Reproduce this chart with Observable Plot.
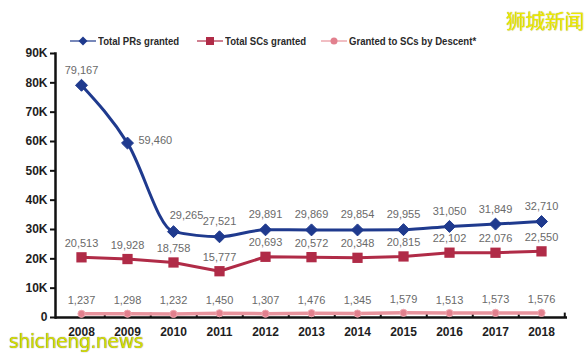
<!DOCTYPE html>
<html>
<head>
<meta charset="utf-8">
<script src="https://cdn.jsdelivr.net/npm/d3@7"></script>
<script src="https://cdn.jsdelivr.net/npm/@observablehq/plot@0.6"></script>
<style>
  html, body { margin:0; padding:0; background:#fff; }
  #wrap { position:relative; width:588px; height:357px; overflow:hidden; background:#fff; }
  #chart { position:absolute; left:0; top:0; }
  .leg { position:absolute; top:33px; height:16px; display:flex; align-items:center;
         font-family:"Liberation Sans",Arial,sans-serif;
         font-weight:bold; font-size:11px; color:#2a2a2a; white-space:nowrap; }
  .leg svg { margin-right:2px; }
  .leg span { display:inline-block; transform:scaleX(0.87); transform-origin:left center; }
  .wm1 { position:absolute; left:506px; top:6px; font-family:"Noto Sans CJK SC",sans-serif; font-size:20px;
         color:#eeea00; text-shadow:0 0 1px #9a9a40; letter-spacing:-0.5px; }
  .wm2 { position:absolute; left:9px; top:330px; font-family:"DejaVu Sans","Liberation Sans",sans-serif; font-size:19px;
         color:#d6de00; text-shadow:0 0 1px #555; letter-spacing:-0.5px; }
</style>
</head>
<body>
<div id="wrap">
  <div id="chart"></div>
  <div id="legend"></div>
  <div class="wm1">狮城新闻</div>
  <div class="wm2">shicheng.news</div>
</div>
<script>
const years = [2008, 2009, 2010, 2011, 2012, 2013, 2014, 2015, 2016, 2017, 2018];
const totalPRs = [79167, 59460, 29265, 27521, 29891, 29869, 29854, 29955, 31050, 31849, 32710];
const totalSCs = [20513, 19928, 18758, 15777, 20693, 20572, 20348, 20815, 22102, 22076, 22550];
const byDescent = [1237, 1298, 1232, 1450, 1307, 1476, 1345, 1579, 1513, 1573, 1576];
const seriesNames = ["Total PRs granted", "Total SCs granted", "Granted to SCs by Descent*"];
const yTicks = [0, 10000, 20000, 30000, 40000, 50000, 60000, 70000, 80000, 90000];
const yTickLabels = ["0", "10K", "20K", "30K", "40K", "50K", "60K", "70K", "80K", "90K"];

const colors = ["#1f3a8e", "#b02b47", "#e8939d"];
const markerFill = ["#1f3a8e", "#b02b47", "#e2808e"];

const rowsPR = years.map((y, i) => ({year: y, value: totalPRs[i]}));
const rowsSC = years.map((y, i) => ({year: y, value: totalSCs[i]}));
const rowsDS = years.map((y, i) => ({year: y, value: byDescent[i]}));
const fmt = d3.format(",");
const tickLabel = new Map(yTicks.map((t, i) => [t, yTickLabels[i]]));

const W = 588, H = 357, ML = 55, MR = 21, MT = 53, MB = 40;
const half = (W - ML - MR) / years.length / 2;
const labelFont = "Liberation Sans, Arial, sans-serif";

const plot = Plot.plot({
  width: W, height: H,
  marginLeft: ML, marginRight: MR, marginTop: MT, marginBottom: MB,
  style: {background: "transparent", fontFamily: "Liberation Sans, Arial, sans-serif"},
  x: {type: "band", domain: years, padding: 0, axis: null},
  y: {domain: [0, 90000], axis: null},
  marks: [
    Plot.axisY({ticks: yTicks, tickFormat: d => tickLabel.get(d), tickSize: 5, tickPadding: 3, label: null,
                fontWeight: "bold", fontSize: 12, fill: "#1e1e1e", stroke: "#111", strokeWidth: 2}),
    Plot.axisX({tickSize: 0, tickPadding: 10, label: null, fontWeight: "bold", fontSize: 12, fill: "#1e1e1e",
                tickFormat: d => String(d)}),
    Plot.ruleY([0], {stroke: "#111", strokeWidth: 2.5}),
    Plot.frame({anchor: "left", stroke: "#111", strokeWidth: 2.5}),
    Plot.ruleX(years, {x: d => d, dx: half, y1: 0, y2: 1500, stroke: "#111", strokeWidth: 2}),
    // lines
    Plot.line(rowsDS, {x: "year", y: "value", stroke: colors[2], strokeWidth: 3.5}),
    Plot.line(rowsSC, {x: "year", y: "value", stroke: colors[1], strokeWidth: 3}),
    Plot.line(rowsPR, {x: "year", y: "value", stroke: colors[0], strokeWidth: 3, curve: "monotone-x"}),
    // markers
    Plot.dot(rowsDS, {x: "year", y: "value", r: 3.6, fill: markerFill[2], stroke: "#f0a8b0", strokeWidth: 1}),
    Plot.dot(rowsSC, {x: "year", y: "value", symbol: "square", r: 5.8, fill: markerFill[1]}),
    Plot.dot(rowsPR, {x: "year", y: "value", symbol: "diamond2", r: 5.4, fill: markerFill[0], stroke: markerFill[0], strokeWidth: 1}),
    // labels
    Plot.text(rowsDS, {x: "year", y: "value", text: d => fmt(d.value), dy: -13, fill: "#6a6a6a", fontSize: 11, fontFamily: labelFont}),
    Plot.text(rowsSC, {x: "year", y: "value", text: d => fmt(d.value), dy: -14, fill: "#6a6a6a", fontSize: 11, fontFamily: labelFont}),
    Plot.text(rowsPR, {filter: d => d.year !== 2009 && d.year !== 2010, x: "year", y: "value", text: d => fmt(d.value), dy: -15, fill: "#6a6a6a", fontSize: 11, fontFamily: labelFont}),
    Plot.text(rowsPR, {filter: d => d.year === 2009, x: "year", y: "value", text: d => fmt(d.value), dx: 11, dy: -3, textAnchor: "start", fill: "#6a6a6a", fontSize: 11, fontFamily: labelFont}),
    Plot.text(rowsPR, {filter: d => d.year === 2010, x: "year", y: "value", text: d => fmt(d.value), dx: 13, dy: -16, fill: "#6a6a6a", fontSize: 11, fontFamily: labelFont})
  ]
});
document.getElementById("chart").appendChild(plot);

// legend
const legendLeft = [70, 197, 321];
const legendSymbols = ["diamond", "square", "circle"];
const leg = document.getElementById("legend");
seriesNames.forEach((name, i) => {
  const div = document.createElement("div");
  div.className = "leg";
  div.style.left = legendLeft[i] + "px";
  const s = d3.create("svg").attr("width", 26).attr("height", 16);
  s.append("line").attr("x1", 0).attr("x2", 26).attr("y1", 8).attr("y2", 8)
    .attr("stroke", colors[i]).attr("stroke-width", 1.5).attr("opacity", 0.8);
  if (legendSymbols[i] === "diamond") {
    s.append("path").attr("d", "M13,3.5L17.5,8L13,12.5L8.5,8Z").attr("fill", markerFill[i]);
  } else if (legendSymbols[i] === "square") {
    s.append("rect").attr("x", 9).attr("y", 4).attr("width", 8).attr("height", 8).attr("fill", markerFill[i]);
  } else {
    s.append("circle").attr("cx", 13).attr("cy", 8).attr("r", 3.5).attr("fill", markerFill[i]);
  }
  div.appendChild(s.node());
  const t = document.createElement("span");
  t.textContent = name;
  div.appendChild(t);
  leg.appendChild(div);
});
</script>
</body>
</html>
